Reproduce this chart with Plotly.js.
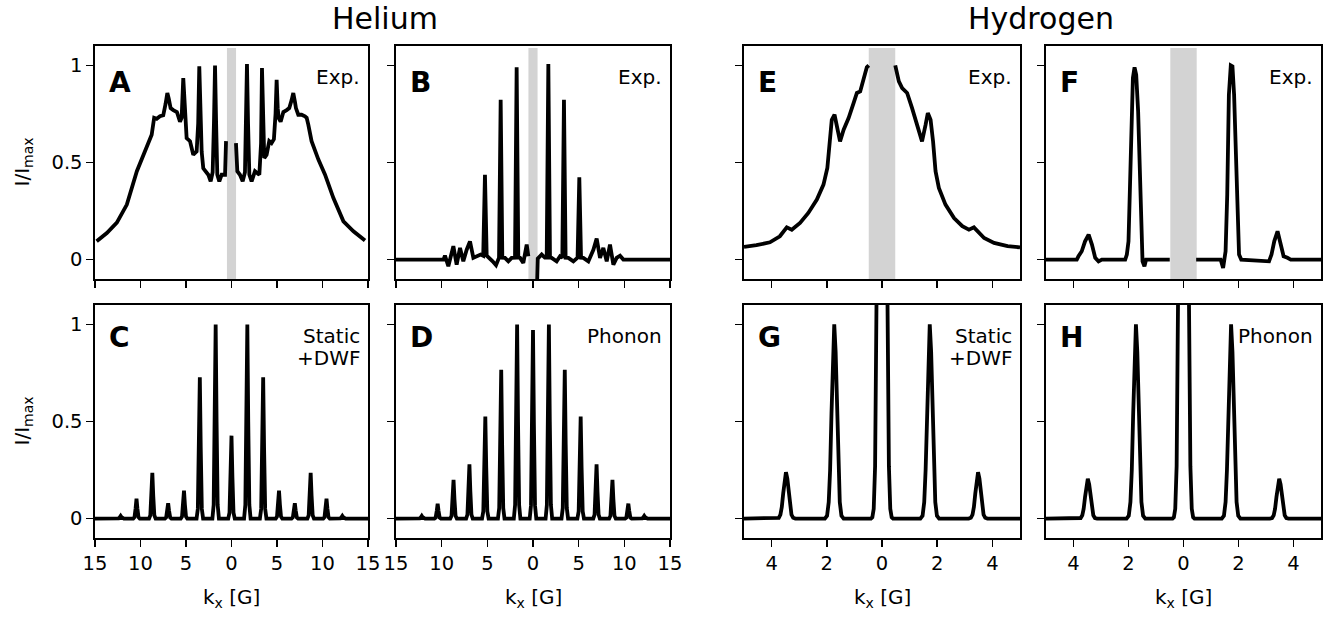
<!DOCTYPE html>
<html><head><meta charset="utf-8">
<script src="https://cdn.plot.ly/plotly-3.0.1.min.js"></script>
<style>html,body{margin:0;padding:0;background:#fff}</style>
</head><body><div id="chart" style="width:1335px;height:620px"></div>
<script>
// ---------------- DATA ----------------
// Helium, experiment (panel A)
const heA_k = [-14.82,-13.7,-12.6,-11.5,-10.4,-9.3,-8.77,-8.5,-8.22,-7.86,-7.5,-7.25,-7.05,-6.9,-6.69,-6.4,-6.0,-5.66,-5.48,-5.3,-5.1,-4.93,-4.56,-4.2,-3.83,-3.66,-3.54,-3.42,-3.28,-3.1,-2.55,-2.29,-2.07,-1.93,-1.81,-1.69,-1.56,-1.34,-1.08,-0.71,-0.6,null,0.49,0.64,0.93,1.23,1.48,1.6,1.7,1.82,1.96,2.21,2.58,3.06,3.25,3.35,3.47,3.6,3.86,4.15,4.4,4.66,4.84,4.96,5.08,5.18,5.4,5.7,6.06,6.35,6.6,6.79,6.98,7.08,7.34,7.7,8.07,8.26,8.44,8.8,9.55,10.28,11.2,12.3,13.4,14.67];
const heA_I = [0.094,0.137,0.19,0.283,0.455,0.575,0.643,0.73,0.725,0.738,0.743,0.80,0.858,0.83,0.78,0.77,0.76,0.71,0.73,0.935,0.73,0.626,0.61,0.54,0.557,0.7,0.995,0.7,0.557,0.47,0.437,0.403,0.45,0.7,1.0,0.7,0.437,0.403,0.437,0.437,0.61,null,0.6,0.455,0.437,0.403,0.45,0.7,1.007,0.7,0.437,0.403,0.455,0.437,0.6,0.986,0.65,0.523,0.54,0.61,0.6,0.62,0.75,0.926,0.78,0.73,0.71,0.76,0.77,0.78,0.82,0.858,0.81,0.78,0.746,0.746,0.738,0.73,0.695,0.61,0.515,0.437,0.317,0.197,0.146,0.098];

// Helium, experiment (panel B)
const heB_k = [-15,-9.8,-9.64,-9.27,-8.72,-8.36,-7.99,-7.63,-7.26,-6.9,-6.53,-6.09,-5.73,-5.45,-5.26,-5.07,-4.78,-4.42,-4.05,-3.72,-3.54,-3.36,-3.07,-2.7,-2.34,-1.97,-1.79,-1.61,-1.42,-1.06,-0.69,-0.51,null,0.45,0.52,0.95,1.3,1.5,1.68,1.86,2.04,2.59,2.96,3.21,3.39,3.57,3.87,4.42,4.88,5.07,5.26,5.51,6.06,6.61,6.97,7.34,7.7,8.07,8.43,8.8,9.16,9.53,9.89,15];
const heB_I = [0,0,0.02,-0.034,0.069,-0.026,0.06,-0.009,0.051,0.094,0.009,0.017,0.026,0.02,0.437,0.02,0.009,-0.009,-0.029,0.01,0.823,0.01,0.009,-0.009,0.009,0.01,0.99,0.01,0.009,-0.017,0.077,0.017,null,-0.12,0.005,0.026,0.01,0.01,1.007,0.01,0.009,-0.009,0.017,0.01,0.823,0.01,0.009,-0.009,0.01,0.424,0.01,0.009,-0.009,0.05,0.108,0.009,0.06,-0.009,0.077,-0.026,0.009,0.02,0,0];

// Helium, simulations (panels C and D) on a common k grid
const heSim_k = [-15,
 -12.54,-12.40,-12.28,-12.18,-12.08,-11.96,-11.82,
 -10.80,-10.66,-10.54,-10.44,-10.34,-10.22,-10.08,
 -9.06,-8.92,-8.80,-8.70,-8.60,-8.48,-8.34,
 -7.32,-7.18,-7.06,-6.96,-6.86,-6.74,-6.60,
 -5.58,-5.44,-5.32,-5.22,-5.12,-5.00,-4.86,
 -3.84,-3.70,-3.58,-3.48,-3.38,-3.26,-3.12,
 -2.10,-1.96,-1.84,-1.74,-1.64,-1.52,-1.38,
 -0.36,-0.22,-0.10,0,0.10,0.22,0.36,
 1.38,1.52,1.64,1.74,1.84,1.96,2.10,
 3.12,3.26,3.38,3.48,3.58,3.70,3.84,
 4.86,5.00,5.12,5.22,5.32,5.44,5.58,
 6.60,6.74,6.86,6.96,7.06,7.18,7.32,
 8.34,8.48,8.60,8.70,8.80,8.92,9.06,
 10.08,10.22,10.34,10.44,10.54,10.66,10.80,
 11.82,11.96,12.08,12.18,12.28,12.40,12.54,
 15];
const heC_I = [0,
 0,0.001,0.007,0.014,0.007,0.001,0,
 0,0.007,0.052,0.103,0.052,0.007,0,
 0,0.017,0.118,0.236,0.118,0.017,0,
 0,0.006,0.040,0.079,0.040,0.006,0,
 0,0.010,0.072,0.144,0.072,0.010,0,
 0,0.050,0.364,0.728,0.364,0.050,0,
 0,0.07,0.5,1.0,0.5,0.07,0,
 0,0.030,0.214,0.427,0.214,0.030,0,
 0,0.07,0.5,1.0,0.5,0.07,0,
 0,0.050,0.364,0.728,0.364,0.050,0,
 0,0.010,0.072,0.144,0.072,0.010,0,
 0,0.006,0.040,0.079,0.040,0.006,0,
 0,0.017,0.118,0.236,0.118,0.017,0,
 0,0.007,0.052,0.103,0.052,0.007,0,
 0,0.001,0.007,0.014,0.007,0.001,0,
 0];
const heD_I = [0,
 0,0.001,0.007,0.014,0.007,0.001,0,
 0,0.005,0.039,0.077,0.039,0.005,0,
 0,0.014,0.10,0.20,0.10,0.014,0,
 0,0.020,0.14,0.28,0.14,0.020,0,
 0,0.037,0.263,0.526,0.263,0.037,0,
 0,0.054,0.383,0.766,0.383,0.054,0,
 0,0.07,0.5,1.0,0.5,0.07,0,
 0,0.068,0.486,0.971,0.486,0.068,0,
 0,0.07,0.5,1.0,0.5,0.07,0,
 0,0.054,0.383,0.766,0.383,0.054,0,
 0,0.037,0.263,0.526,0.263,0.037,0,
 0,0.020,0.14,0.28,0.14,0.020,0,
 0,0.014,0.10,0.20,0.10,0.014,0,
 0,0.005,0.039,0.077,0.039,0.005,0,
 0,0.001,0.007,0.014,0.007,0.001,0,
 0];

// Hydrogen, experiment (panel E)
const hyE_k = [-5,-4.55,-4.06,-3.7,-3.45,-3.27,-2.97,-2.67,-2.36,-2.12,-1.98,-1.9,-1.82,-1.72,-1.64,-1.52,-1.39,-1.21,-1.03,-0.91,-0.79,-0.67,-0.55,-0.48,null,0.48,0.61,0.73,0.91,1.09,1.27,1.45,1.58,1.66,1.76,1.85,1.94,2.06,2.3,2.61,2.91,3.15,3.33,3.45,3.7,4.06,4.55,5];
const hyE_I = [0.065,0.074,0.089,0.12,0.166,0.154,0.189,0.24,0.309,0.386,0.472,0.626,0.72,0.746,0.695,0.609,0.669,0.729,0.806,0.858,0.866,0.935,0.99,1.0,null,1.0,0.918,0.883,0.858,0.78,0.695,0.609,0.695,0.755,0.72,0.609,0.455,0.369,0.283,0.214,0.172,0.154,0.166,0.146,0.111,0.086,0.069,0.063];

// Hydrogen, experiment (panel F)
const hyF_k = [-5,-3.88,-3.82,-3.7,-3.58,-3.45,-3.33,-3.21,-3.09,-2.97,-2.12,-2.06,-2.0,-1.91,-1.84,-1.78,-1.72,-1.65,-1.57,-1.49,-1.42,-1.36,-0.5,null,0.46,1.35,1.44,1.53,1.59,1.65,1.72,1.78,1.84,1.92,2.02,2.1,3.11,3.2,3.3,3.42,3.52,3.64,3.78,3.9,5];
const hyF_I = [0,0,0.017,0.043,0.094,0.129,0.077,0.009,-0.009,0,0,0.026,0.094,0.506,0.935,0.99,0.952,0.763,0.334,-0.009,-0.034,0,0,null,0,0,-0.043,0.043,0.334,0.849,1.0,0.995,0.849,0.42,0.026,0,-0.009,0.026,0.094,0.146,0.077,0.017,0.009,0,0];

// Hydrogen, simulations (panels G and H) on a common k grid
const hySim_k = [-5,
 -3.82,-3.74,-3.68,-3.63,-3.58,-3.53,-3.48,-3.43,-3.38,-3.33,-3.28,-3.22,-3.14,
 -2.07,-1.99,-1.93,-1.88,-1.83,-1.78,-1.73,-1.68,-1.63,-1.58,-1.53,-1.47,-1.39,
 -0.40,-0.35,-0.30,-0.25,-0.20,-0.10,0,0.10,0.20,0.25,0.30,0.35,0.40,
 1.39,1.47,1.53,1.58,1.63,1.68,1.73,1.78,1.83,1.88,1.93,1.99,2.07,
 3.14,3.22,3.28,3.33,3.38,3.43,3.48,3.53,3.58,3.63,3.68,3.74,3.82,
 5];
const hyG_I = [0,
 0,0.004,0.020,0.060,0.129,0.206,0.239,0.206,0.129,0.060,0.020,0.004,0,
 0,0.015,0.085,0.25,0.54,0.86,1.0,0.86,0.54,0.25,0.085,0.015,0,
 0,0.007,0.05,0.27,1.1,7.9,13,7.9,1.1,0.27,0.05,0.007,0,
 0,0.015,0.085,0.25,0.54,0.86,1.0,0.86,0.54,0.25,0.085,0.015,0,
 0,0.004,0.020,0.060,0.129,0.206,0.239,0.206,0.129,0.060,0.020,0.004,0,
 0];
const hyH_I = [0,
 0,0.003,0.017,0.051,0.111,0.176,0.205,0.176,0.111,0.051,0.017,0.003,0,
 0,0.015,0.085,0.25,0.54,0.86,1.0,0.86,0.54,0.25,0.085,0.015,0,
 0,0.007,0.05,0.27,1.1,7.9,13,7.9,1.1,0.27,0.05,0.007,0,
 0,0.015,0.085,0.25,0.54,0.86,1.0,0.86,0.54,0.25,0.085,0.015,0,
 0,0.003,0.017,0.051,0.111,0.176,0.205,0.176,0.111,0.051,0.017,0.003,0,
 0];

// tick labels
const heTickVals = [-15,-10,-5,0,5,10,15];
const heTickText = ['15','10','5','0','5','10','15'];
const hyTickVals = [-4,-2,0,2,4];
const hyTickText = ['4','2','0','2','4'];
const yTickVals = [0,0.5,1];
const yTickText = ['0','0.5','1'];

// masked (beam) region half-widths
const heMask = 0.5;
const hyMask = 0.48;

// panel texts
const panelLetters = ['A','B','E','F','C','D','G','H'];
const panelNotes = [['Exp.'],['Exp.'],['Exp.'],['Exp.'],['Static','+DWF'],['Phonon'],['Static','+DWF'],['Phonon']];

// ---------------- LAYOUT ----------------
const W = 1335, H = 620;
const FONT = 'DejaVu Sans';
const fx = p => p / W;
const fy = p => 1 - p / H;

const cols = [[95,368],[396,670],[744,1020],[1046,1321]];
const rows = [[46,279],[305,538]];

const curves = [
  [heA_k, heA_I], [heB_k, heB_I], [hyE_k, hyE_I], [hyF_k, hyF_I],
  [heSim_k, heC_I], [heSim_k, heD_I], [hySim_k, hyG_I], [hySim_k, hyH_I]
];

const traces = [];
const layout = {
  width: W, height: H,
  margin: {l:0, r:0, t:0, b:0},
  paper_bgcolor: 'white', plot_bgcolor: 'white',
  showlegend: false,
  font: {family: FONT, color: 'black', size: 19},
  shapes: [], annotations: []
};

for (let i = 0; i < 8; i++) {
  const r = i < 4 ? 0 : 1;
  const c = i % 4;
  const n = i + 1;
  const xa = n === 1 ? 'x' : 'x' + n;
  const ya = n === 1 ? 'y' : 'y' + n;
  const isHe = c < 2;
  traces.push({
    x: curves[i][0], y: curves[i][1],
    xaxis: xa, yaxis: ya,
    mode: 'lines', connectgaps: false,
    line: {color: 'black', width: 3.8},
    hoverinfo: 'skip'
  });
  const common = {
    showline: true, mirror: true, linecolor: 'black', linewidth: 1.6,
    ticks: 'outside', ticklen: 7, tickwidth: 1.6, tickcolor: 'black',
    showgrid: false, zeroline: false, fixedrange: true,
    tickfont: {family: FONT, size: 19.5, color: 'black'}
  };
  layout['xaxis' + (n === 1 ? '' : n)] = Object.assign({}, common, {
    domain: [fx(cols[c][0]), fx(cols[c][1])],
    anchor: ya,
    range: isHe ? [-15, 15] : [-5, 5],
    tickmode: 'array',
    tickvals: isHe ? heTickVals : hyTickVals,
    ticktext: isHe ? heTickText : hyTickText,
    showticklabels: r === 1
  });
  layout['yaxis' + (n === 1 ? '' : n)] = Object.assign({}, common, {
    domain: [fy(rows[r][1]), fy(rows[r][0])],
    anchor: xa,
    range: [-0.1, 1.1],
    tickmode: 'array',
    tickvals: yTickVals, ticktext: yTickText,
    showticklabels: c === 0
  });
  // masked band on experimental panels
  if (r === 0) {
    const m = isHe ? heMask : hyMask;
    layout.shapes.push({
      type: 'rect', xref: xa, yref: ya, layer: 'below',
      x0: -m, x1: m, y0: -0.1, y1: 1.09,
      fillcolor: '#d3d3d3', line: {width: 0}
    });
  }
  // panel letter
  const letterY = r === 0 ? 0.845 : 0.86;
  layout.annotations.push({
    xref: xa + ' domain', yref: ya + ' domain',
    x: 0.045, y: letterY, xanchor: 'left', yanchor: 'middle',
    text: '<b>' + panelLetters[i] + '</b>', showarrow: false,
    font: {family: FONT, size: 28, color: 'black'}
  });
  // notes
  const notes = panelNotes[i];
  notes.forEach((t, j) => {
    layout.annotations.push({
      xref: xa + ' domain', yref: ya + ' domain',
      x: 0.977, y: 0.868 - j * 0.097, xanchor: 'right', yanchor: 'middle',
      text: t, showarrow: false,
      font: {family: FONT, size: 20, color: 'black'}
    });
  });
}

// column group titles
layout.annotations.push({xref:'paper', yref:'paper', x: fx(385), y: fy(18), xanchor:'center', yanchor:'middle',
  text:'Helium', showarrow:false, font:{family:FONT, size:30, color:'black'}});
layout.annotations.push({xref:'paper', yref:'paper', x: fx(1041), y: fy(18), xanchor:'center', yanchor:'middle',
  text:'Hydrogen', showarrow:false, font:{family:FONT, size:30, color:'black'}});

// y labels
rows.forEach(rw => {
  layout.annotations.push({xref:'paper', yref:'paper', x: fx(22), y: fy((rw[0]+rw[1])/2),
    xanchor:'center', yanchor:'middle', textangle:-90,
    text:'I/I<sub>max</sub>', showarrow:false, font:{family:FONT, size:20, color:'black'}});
});
// x labels
cols.forEach(cl => {
  layout.annotations.push({xref:'paper', yref:'paper', x: fx((cl[0]+cl[1])/2), y: fy(598),
    xanchor:'center', yanchor:'middle',
    text:'k<sub>x</sub> [G]', showarrow:false, font:{family:FONT, size:20, color:'black'}});
});

Plotly.newPlot('chart', traces, layout, {staticPlot: true, displayModeBar: false});
</script></body></html>
